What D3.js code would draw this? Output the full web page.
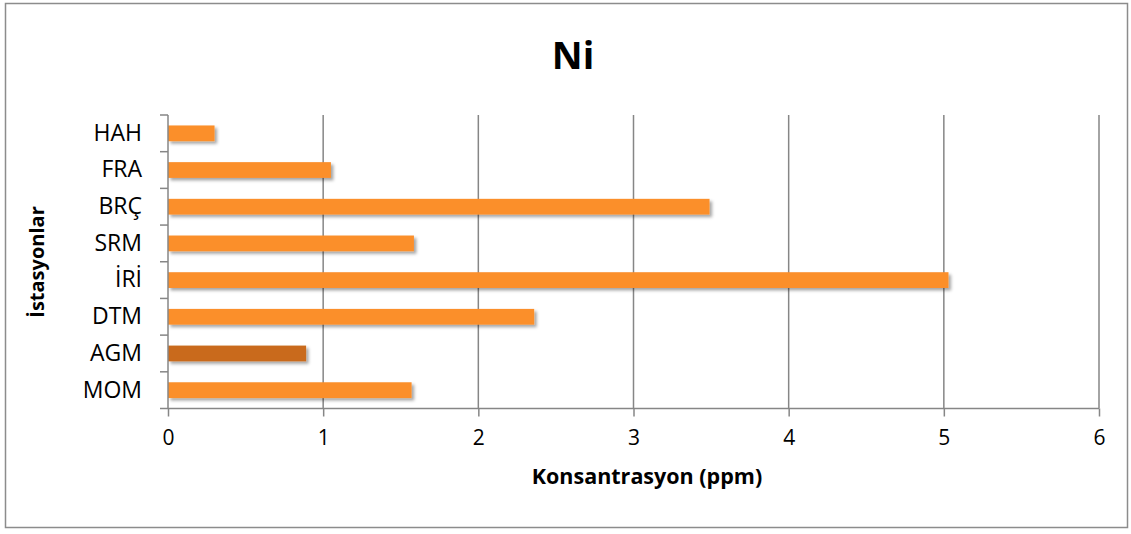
<!DOCTYPE html>
<html><head><meta charset="utf-8">
<script src="https://cdn.jsdelivr.net/npm/d3@7"></script>
<style>body{margin:0;background:#fff}svg{display:block}text{font-family:"Open Sans",sans-serif}</style>
</head><body><svg id="c" width="1131" height="534"></svg>
<script>
const categories = ["MOM","AGM","DTM","İRİ","SRM","BRÇ","FRA","HAH"];
const values = [1.57, 0.89, 2.36, 5.03, 1.585, 3.49, 1.05, 0.30];
const highlighted = ["AGM"];
const xTicks = [0,1,2,3,4,5,6];
const title = "Ni", xTitle = "Konsantrasyon (ppm)", yTitle = "İstasyonlar";

const svg = d3.select("#c");
const defs = svg.append("defs");
const f = defs.append("filter").attr("id","sh").attr("x","-5%").attr("y","-30%").attr("width","115%").attr("height","200%");
f.append("feDropShadow").attr("dx",2.5).attr("dy",2.5).attr("stdDeviation",1.8).attr("flood-color","#000").attr("flood-opacity",0.35);

svg.append("rect").attr("x",5.5).attr("y",3.5).attr("width",1122).attr("height",524).attr("fill","#fff").attr("stroke","#8c8c8c").attr("stroke-width",1.5);

const L=168, R=1099, T=115, B=408.5;
const x = d3.scaleLinear().domain([0,6]).range([L,R]);
const y = d3.scaleBand().domain(categories.slice().reverse()).range([T,B]).paddingInner(0.57).paddingOuter(0.285);
const yb = d3.scaleBand().domain(categories.slice().reverse()).range([T,B]);

// gridlines
svg.append("g").selectAll("line").data(xTicks.slice(1)).join("line")
 .attr("x1",d=>x(d)).attr("x2",d=>x(d)).attr("y1",T).attr("y2",B)
 .attr("stroke","#868686").attr("stroke-width",1.5);

// bars
svg.append("g").selectAll("rect").data(categories).join("rect")
 .attr("x",x(0)).attr("y",d=>y(d)).attr("height",y.bandwidth())
 .attr("width",(d,i)=>x(values[i])-x(0))
 .attr("fill",d=>highlighted.includes(d)?"#C96B1D":"#FB8F2B")
 .attr("filter","url(#sh)");

// x axis
const xa = svg.append("g").attr("transform",`translate(0,${B})`)
 .call(d3.axisBottom(x).tickValues(xTicks).tickSize(8).tickPadding(14).tickFormat(d3.format("d")));
xa.select(".domain").attr("stroke","#868686").attr("stroke-width",1.5).attr("d",`M${L},0H${R}`);
xa.selectAll(".tick line").attr("stroke","#868686").attr("stroke-width",1.5);
xa.selectAll("text").attr("font-size",21).attr("fill","#000").attr("font-family","'Open Sans',sans-serif");

// y axis
const ya = svg.append("g").attr("transform",`translate(${L},0)`)
 .call(d3.axisLeft(yb).tickSize(0).tickPadding(26));
ya.select(".domain").attr("stroke","#868686").attr("stroke-width",1.5).attr("d",`M0,${T}V${B}`);
ya.selectAll("text").attr("font-size",23).attr("fill","#000").attr("font-family","'Open Sans',sans-serif");
svg.append("g").selectAll("line").data(categories.concat(["_end"])).join("line")
 .attr("x1",L-8).attr("x2",L)
 .attr("y1",(d,i)=> i<categories.length ? yb(categories.slice().reverse()[i]) : B)
 .attr("y2",(d,i)=> i<categories.length ? yb(categories.slice().reverse()[i]) : B)
 .attr("stroke","#868686").attr("stroke-width",1.5);

svg.append("text").attr("x",573).attr("y",69).attr("text-anchor","middle").attr("font-size",38).attr("font-weight","bold").text(title);
svg.append("text").attr("x",647).attr("y",484).attr("text-anchor","middle").attr("font-size",21.5).attr("font-weight","bold").text(xTitle);
svg.append("text").attr("transform","translate(44,262) rotate(-90)").attr("text-anchor","middle").attr("font-size",20).attr("font-weight","bold").text(yTitle);
</script></body></html>
